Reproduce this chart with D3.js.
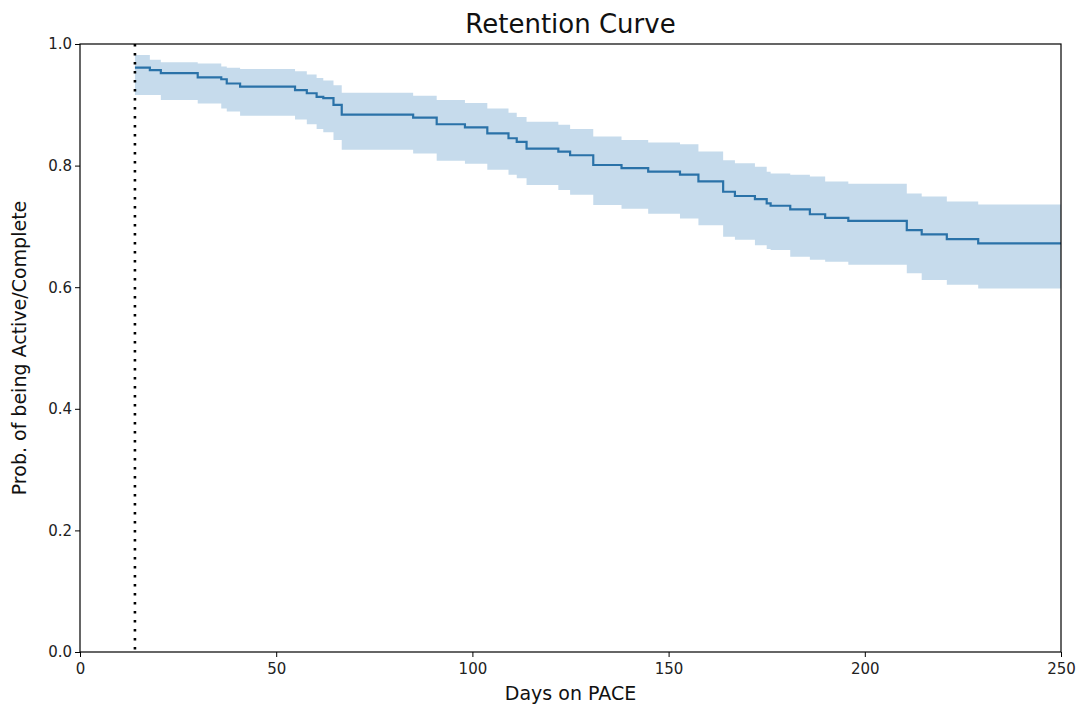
<!DOCTYPE html>
<html>
<head>
<meta charset="utf-8">
<script src="https://cdn.jsdelivr.net/npm/d3@7"></script>
<style>
  html, body { margin: 0; padding: 0; background: #fff; }
  svg { display: block; font-family: "DejaVu Sans", sans-serif; }
</style>
</head>
<body>
<svg id="chart" width="1082" height="711"></svg>
<script>
// ---- data ----
const days     = [14, 17.8, 20.6, 30, 36, 37.4, 40.8, 54.8, 57.8, 60.3, 62, 64.6, 66.7, 84.9, 90.9, 98.1, 103.8, 109.2, 111.3, 113.8, 121.9, 124.9, 130.8, 138, 144.8, 152.9, 157.6, 163.9, 166.9, 172, 175, 176, 181, 186, 189.9, 195.8, 210.7, 214.5, 220.9, 228.9];
const survival = [0.961, 0.957, 0.952, 0.945, 0.942, 0.935, 0.930, 0.924, 0.919, 0.913, 0.911, 0.900, 0.884, 0.879, 0.868, 0.863, 0.853, 0.845, 0.839, 0.828, 0.823, 0.817, 0.801, 0.796, 0.790, 0.785, 0.774, 0.757, 0.750, 0.745, 0.738, 0.734, 0.728, 0.720, 0.714, 0.709, 0.694, 0.687, 0.679, 0.672];
const ciLower  = [0.916, 0.916, 0.908, 0.902, 0.894, 0.889, 0.882, 0.876, 0.868, 0.860, 0.855, 0.842, 0.826, 0.820, 0.808, 0.803, 0.793, 0.785, 0.779, 0.768, 0.760, 0.752, 0.735, 0.729, 0.721, 0.713, 0.702, 0.683, 0.678, 0.669, 0.663, 0.661, 0.650, 0.645, 0.642, 0.637, 0.623, 0.612, 0.604, 0.598];
const ciUpper  = [0.982, 0.974, 0.970, 0.968, 0.963, 0.961, 0.959, 0.955, 0.950, 0.944, 0.940, 0.932, 0.920, 0.915, 0.908, 0.903, 0.894, 0.887, 0.880, 0.872, 0.867, 0.860, 0.848, 0.842, 0.838, 0.835, 0.823, 0.809, 0.804, 0.798, 0.790, 0.787, 0.785, 0.782, 0.774, 0.770, 0.754, 0.749, 0.741, 0.736];
const xTicks = [0, 50, 100, 150, 200, 250];
const yTicks = [0.0, 0.2, 0.4, 0.6, 0.8, 1.0];
const cutoffDay = 14;
const xMax = 250;
const titleText = "Retention Curve";
const xLabel = "Days on PACE";
const yLabel = "Prob. of being Active/Complete";

// ---- layout ----
const L = 80, R = 1061, T = 44, B = 652;
const svg = d3.select("#chart");
const x = d3.scaleLinear().domain([0, 250]).range([L, R]);
const y = d3.scaleLinear().domain([0, 1]).range([B, T]);

const rows = days.map((d, i) => ({ d, s: survival[i], lo: ciLower[i], up: ciUpper[i] }));
const last = rows[rows.length - 1];
rows.push({ d: xMax, s: last.s, lo: last.lo, up: last.up });

svg.append("defs").append("clipPath").attr("id", "clip")
  .append("rect").attr("x", L).attr("y", T).attr("width", R - L).attr("height", B - T);

const g = svg.append("g").attr("clip-path", "url(#clip)");

g.append("path")
  .datum(rows)
  .attr("fill", "#c6dbec")
  .attr("stroke", "none")
  .attr("d", d3.area().curve(d3.curveStepAfter)
    .x(r => x(r.d)).y0(r => y(r.lo)).y1(r => y(r.up)));

g.append("path")
  .datum(rows)
  .attr("fill", "none")
  .attr("stroke", "#2a72a8")
  .attr("stroke-width", 2.2)
  .attr("d", d3.line().curve(d3.curveStepAfter).x(r => x(r.d)).y(r => y(r.s)));

// dotted cutoff line
svg.append("line")
  .attr("x1", x(cutoffDay)).attr("x2", x(cutoffDay))
  .attr("y1", y(1)).attr("y2", y(0))
  .attr("stroke", "#000").attr("stroke-width", 2.6)
  .attr("stroke-dasharray", "2.6,6.4");

// axes
const xAxis = svg.append("g").attr("transform", `translate(0,${B})`)
  .call(d3.axisBottom(x).tickValues(xTicks).tickFormat(d3.format("d")).tickSize(5).tickSizeOuter(0));
const yAxis = svg.append("g").attr("transform", `translate(${L},0)`)
  .call(d3.axisLeft(y).tickValues(yTicks).tickFormat(d3.format(".1f")).tickSize(5).tickSizeOuter(0));
[xAxis, yAxis].forEach(a => {
  a.select(".domain").remove();
  a.selectAll("line").attr("stroke", "#000").attr("stroke-width", 1);
  a.selectAll("text").attr("fill", "#222").style("font-size", "15px").style("font-family", "DejaVu Sans");
});
xAxis.selectAll("text").attr("dy", "0.9em");
yAxis.selectAll("text").attr("x", -8);

// spines
svg.append("rect").attr("x", L).attr("y", T).attr("width", R - L).attr("height", B - T)
  .attr("fill", "none").attr("stroke", "#000").attr("stroke-width", 1.2);

// labels
svg.append("text").attr("x", (L + R) / 2).attr("y", 33).attr("text-anchor", "middle")
  .style("font-size", "26px").attr("fill", "#111").text(titleText);
svg.append("text").attr("x", (L + R) / 2).attr("y", 700).attr("text-anchor", "middle")
  .style("font-size", "19px").attr("fill", "#111").text(xLabel);
svg.append("text").attr("transform", `translate(26,${(T + B) / 2}) rotate(-90)`)
  .attr("text-anchor", "middle").style("font-size", "19px").attr("fill", "#111").text(yLabel);
</script>
</body>
</html>
